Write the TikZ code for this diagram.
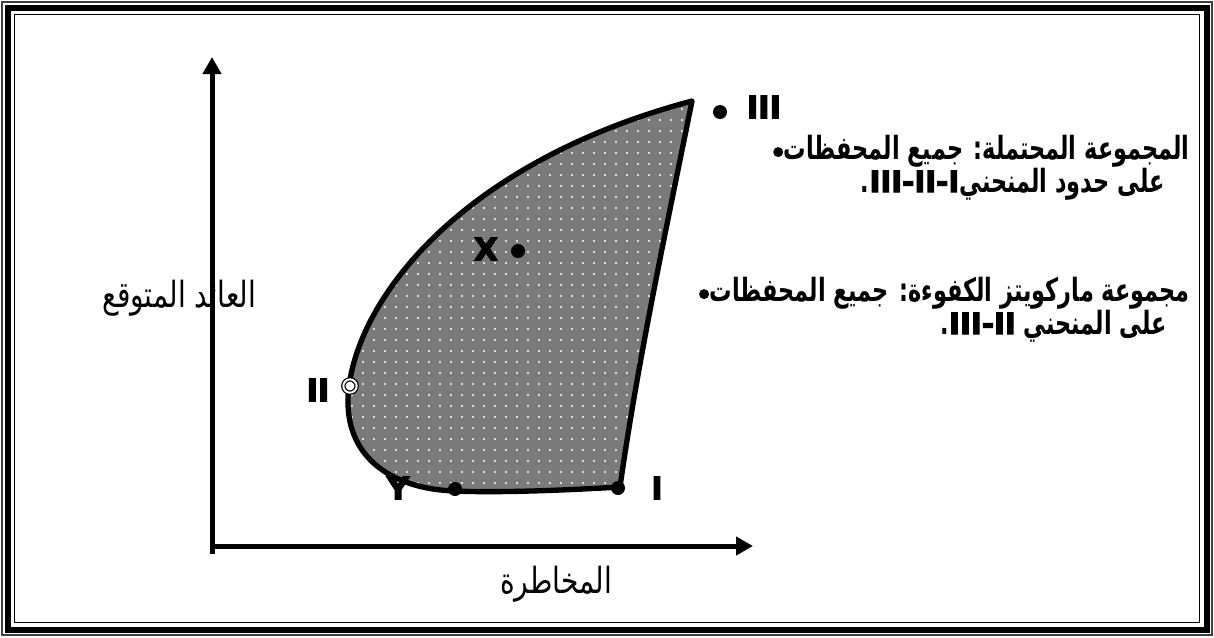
\documentclass[tikz,border=0pt]{standalone}
\usepackage{fontspec}
\setmainfont{DejaVu Sans}
\newfontfamily\arabicfont[Script=Arabic,FakeStretch=0.78]{DejaVu Sans}
\newfontfamily\arabicbold[Script=Arabic,FakeStretch=0.70]{DejaVu Sans Bold}
\newfontfamily\heavyfont[FakeBold=4]{DejaVu Sans Bold}
\TeXXeTstate=1
\usetikzlibrary{arrows.meta,patterns}
\pgfdeclarepatternformonly{wdots}{\pgfqpoint{-1pt}{-1pt}}{\pgfqpoint{1pt}{1pt}}{\pgfqpoint{8.25pt}{8.25pt}}{\pgfpathcircle{\pgfqpoint{0pt}{0pt}}{0.8pt}\pgfusepath{fill}}
\tikzset{
  axisline/.style={line width=3.75pt,-{Triangle[length=12.75pt,width=13.5pt]}},
  dot/.style={circle,fill=black,inner sep=0pt,minimum size=10.5pt},
  bul/.style={circle,fill=black,inner sep=0pt,minimum size=7.5pt},
  ring/.style={circle,draw=black,fill=white,double=white,double distance=1.5pt,line width=0.9pt,inner sep=0pt,minimum size=10pt},
  roman/.style={font=\heavyfont\fontsize{23}{23}\selectfont,inner sep=0pt},
  rtext/.style={font=\arabicbold\fontsize{24}{26}\selectfont,inner sep=0pt},
  atext/.style={font=\arabicfont\fontsize{27}{28}\selectfont,inner sep=0pt}
}
\newcommand{\latinpart}[1]{{\heavyfont\fontsize{22}{22}\selectfont #1}}
\newcommand{\regionpath}{(III) .. controls (666,230) and (638,360) .. (I) .. controls (570,490) and (500,493) .. (Yp) .. controls (390,489) and (340,455) .. (II) .. controls (362,290) and (470,160) .. cycle}
\begin{document}
\begin{tikzpicture}[x=0.75pt,y=-0.75pt]
\useasboundingbox (0,0) rectangle (1214,637);
% frame
\draw[black!75,line width=1.1pt] (2,2) rectangle (1212,635);
\draw[line width=4.5pt] (7.5,7.5) rectangle (1206.5,629.5);
\draw[line width=1.1pt] (14.5,14.5) rectangle (1199.5,622.5);
% axes
\coordinate (ybot) at (212,554);
\coordinate (ytip) at (212,57);
\coordinate (xorg) at (210,546);
\coordinate (xtip) at (753,546);
\draw[axisline] (ybot) -- (ytip);
\draw[axisline] (xorg) -- (xtip);
% region
\coordinate (III) at (692,101);
\coordinate (I) at (620,487);
\coordinate (Yp) at (455,491);
\coordinate (II) at (349,386);
\fill[black!52] \regionpath;
\fill[pattern=wdots,pattern color=white] \regionpath;
\draw[line width=4pt,line join=round] \regionpath;
% points
\node[dot] (pI) at (618,488) {};
\node[dot] (pY) at (455,489) {};
\node[dot] (pX) at (518,251) {};
\node[ring] (pII) at (350,386) {};
\node[dot] (pIII) at (720,112) {};
% point labels
\node[roman] (lIII) at (764,107) {III};
\node[roman] (lII) at (318,390) {II};
\node[roman] (lI) at (657,488) {I};
\node[roman] (lY) at (398,488) {Y};
\node[roman] (lX) at (486,249) {X};
% axis labels
\node[atext,anchor=base] (ylab) at (179,307) {\beginR العائد المتوقع\endR};
\node[atext,anchor=base] (xlab) at (556,593) {\beginR المخاطرة\endR};
% right text
\node[rtext,anchor=base east] (t1) at (1190,159) {\beginR المجموعة المحتملة: جميع المحفظات\endR};
\node[bul,anchor=east] (b1) at ([yshift=-1pt]t1.west) {};
\node[rtext,anchor=base east] (t2) at (1165,192) {\beginR على حدود المنحني\beginL\latinpart{III-II-I}\endL.\endR};
\node[rtext,anchor=base east] (t3) at (1190,301) {\beginR مجموعة ماركويتز الكفوءة: جميع المحفظات\endR};
\node[bul,anchor=east] (b3) at ([yshift=-1pt]t3.west) {};
\node[rtext,anchor=base east] (t4) at (1167,334) {\beginR على المنحني \beginL\latinpart{III-II}\endL.\endR};
\end{tikzpicture}
\end{document}
